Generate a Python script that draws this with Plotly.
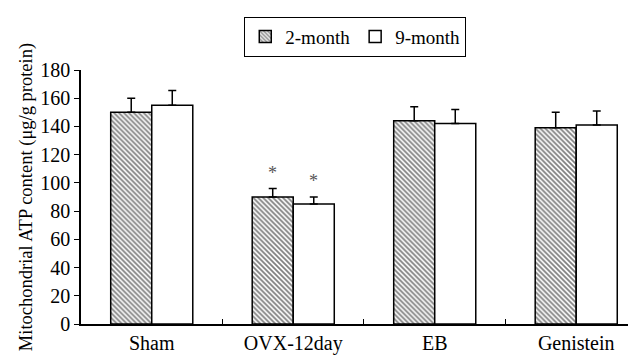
import plotly.graph_objects as go

categories = ["Sham", "OVX-12day", "EB", "Genistein"]
series_names = ["2-month", "9-month"]
values_2m = [150, 90, 144, 139]
errors_2m = [10, 6, 10, 11]
values_9m = [155, 85, 142, 141]
errors_9m = [10.5, 5, 10, 10]
significant_2m = [False, True, False, False]
significant_9m = [False, True, False, False]
y_ticks = [0, 20, 40, 60, 80, 100, 120, 140, 160, 180]

FONT = "Liberation Serif"

fig = go.Figure()
fig.add_trace(go.Bar(
    name=series_names[0], x=categories, y=values_2m,
    error_y=dict(type="data", array=errors_2m, arrayminus=[0]*4, symmetric=False,
                 color="black", thickness=1.5, width=4),
    marker=dict(color="white", line=dict(color="black", width=1.5),
                pattern=dict(shape="\\", fgcolor="black", bgcolor="white", size=3.5, solidity=0.5)),
))
fig.add_trace(go.Bar(
    name=series_names[1], x=categories, y=values_9m,
    error_y=dict(type="data", array=errors_9m, arrayminus=[0]*4, symmetric=False,
                 color="black", thickness=1.5, width=4),
    marker=dict(color="white", line=dict(color="black", width=1.5)),
))

# significance asterisks
for i, c in enumerate(categories):
    if significant_2m[i]:
        fig.add_annotation(x=c, y=values_2m[i] + errors_2m[i], xshift=-20.5, yshift=16,
                           text="*", showarrow=False, font=dict(family=FONT, size=18, color="#555"))
    if significant_9m[i]:
        fig.add_annotation(x=c, y=values_9m[i] + errors_9m[i], xshift=20.5, yshift=16,
                           text="*", showarrow=False, font=dict(family=FONT, size=18, color="#555"))

fig.update_layout(
    width=636, height=360,
    margin=dict(l=73, r=0, t=62, b=44),
    paper_bgcolor="white", plot_bgcolor="white",
    font=dict(family=FONT, size=20, color="black"),
    barmode="group", bargap=0.42, bargroupgap=0,
    legend=dict(orientation="h", x=0.29, xanchor="left", y=1.21, yanchor="top",
                bordercolor="black", borderwidth=1, bgcolor="white",
                font=dict(family=FONT, size=19), itemwidth=30,
                tracegroupgap=0),
    showlegend=True,
)
fig.update_xaxes(
    range=[-0.5, 3.479], showline=True, linecolor="black", linewidth=1.5,
    ticks="inside", tickson="boundaries", ticklen=5, tickcolor="black",
    showgrid=False, tickfont=dict(family=FONT, size=20),
)
fig.update_yaxes(
    range=[0, 180], tickvals=y_ticks, showline=True, linecolor="black", linewidth=1.5,
    ticks="outside", ticklen=5, tickcolor="black", showgrid=False, zeroline=False,
    tickfont=dict(family=FONT, size=20),
    title=dict(text="Mitochondrial ATP content (μg/g protein)", font=dict(family=FONT, size=18.5), standoff=3),
)

fig.write_html("out.html")
